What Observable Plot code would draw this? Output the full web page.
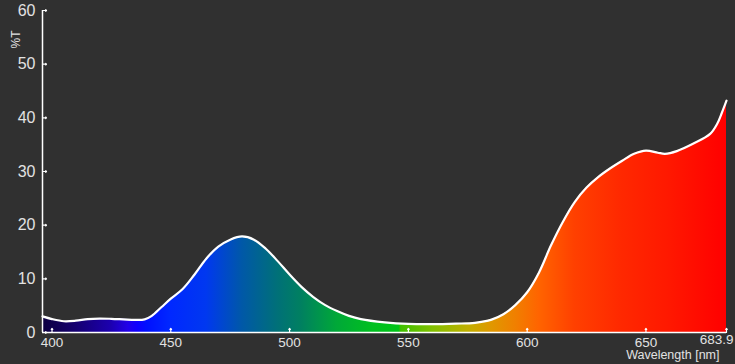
<!DOCTYPE html>
<html>
<head>
<meta charset="utf-8">
<script src="https://cdn.jsdelivr.net/npm/d3@7"></script>
<script src="https://cdn.jsdelivr.net/npm/@observablehq/plot@0.6"></script>
<style>
  html, body { margin: 0; padding: 0; background: #303030; }
  #chart { width: 735px; height: 364px; }
</style>
</head>
<body>
<div id="chart"></div>
<script>
// ---- data ----
const wavelengths = [396, 400, 405, 410, 415, 420, 425, 430, 435, 439, 442, 446, 450, 455, 460, 465, 470, 475, 480, 485, 490, 495, 500, 505, 510, 515, 520, 525, 530, 540, 550, 560, 570, 578, 585, 590, 595, 600, 605, 610, 615, 620, 625, 630, 635, 640, 645, 650, 655, 658, 663, 670, 677, 680, 682, 683.9];
const transmission = [3.0, 2.5, 2.1, 2.2, 2.5, 2.6, 2.55, 2.45, 2.35, 2.45, 3.1, 4.7, 6.3, 8.1, 10.8, 13.8, 16.0, 17.3, 17.9, 17.3, 15.6, 13.3, 10.8, 8.5, 6.6, 5.1, 4.0, 3.1, 2.5, 1.9, 1.6, 1.55, 1.65, 1.8, 2.4, 3.4, 5.1, 7.5, 11.2, 16.2, 20.6, 24.3, 27.0, 29.0, 30.6, 32.0, 33.3, 33.9, 33.5, 33.3, 33.8, 35.2, 37.0, 38.9, 41.0, 43.2];
const xTicks = [400, 450, 500, 550, 600, 650];
const xEndTick = [683.9];
const yTicks = [0, 10, 20, 30, 40, 50, 60];
const xDomain = [396, 683.9];
const yDomain = [0, 60];
const xLabel = "Wavelength [nm]";
const yLabel = "%T";

// spectral gradient stops (wavelength -> colour)
const stopWavelengths = [396, 410, 425, 432, 436, 440, 450, 465, 480, 495, 505, 520, 535, 546, 547, 560, 575, 585, 595, 605, 620, 640, 660, 683.9];
const stopColors = ["#0d0040", "#150070", "#1c00b0", "#2200e8", "#1000ff", "#0010ff", "#0028ff", "#0038f0", "#0058a8", "#007078", "#008060", "#00a838", "#00c020", "#00c418", "#40c000", "#80c000", "#c0b000", "#e09800", "#f08000", "#ff6400", "#ff4000", "#ff2800", "#ff1800", "#ff0000"];

const data = wavelengths.map((w, i) => ({w, t: transmission[i]}));
const fg = "#ffffff";
const txt = "#e2e2e2";

const plot = Plot.plot({
  width: 735,
  height: 364,
  marginLeft: 42,
  marginRight: 9,
  marginTop: 10,
  marginBottom: 32,
  style: {background: "#303030", color: txt, fontFamily: "'Liberation Sans', Arial, sans-serif"},
  x: {domain: xDomain},
  y: {domain: yDomain},
  marks: [
    Plot.areaY(data, {x: "w", y: "t", fill: "url(#spectrum)", curve: "catmull-rom"}),
    Plot.line(data, {x: "w", y: "t", stroke: fg, strokeWidth: 2.2, curve: "catmull-rom"}),
    Plot.ruleX([xDomain[0]], {stroke: fg, strokeWidth: 1.5}),
    Plot.ruleY([0], {stroke: fg, strokeWidth: 1.5}),
    Plot.vector(yTicks, {y: d => d, frameAnchor: "left", length: 4, rotate: 90, anchor: "start", stroke: fg, strokeWidth: 1.2}),
    Plot.vector(xTicks.concat(xEndTick), {x: d => d, frameAnchor: "bottom", length: 4, rotate: 0, anchor: "start", stroke: fg, strokeWidth: 1.2}),
    Plot.axisY({ticks: yTicks, tickSize: 0, tickPadding: 7, fontSize: 16, label: null, fill: txt}),
    Plot.axisX({ticks: xTicks, tickSize: 0, tickPadding: 5, fontSize: 13.5, label: null, fill: txt}),
    Plot.text(xEndTick, {x: d => d, frameAnchor: "bottom", text: d => String(d), textAnchor: "end", dx: 7, dy: 11.5, fontSize: 13.5, fill: txt}),
    Plot.text([xLabel], {frameAnchor: "bottom-right", text: d => d, textAnchor: "end", dx: -7, dy: 26, fontSize: 12.5, fill: txt}),
    Plot.text([yLabel], {frameAnchor: "top-left", text: d => d, rotate: -90, textAnchor: "middle", dx: -31, dy: 29, fontSize: 12, fill: txt})
  ]
});

// gradient definition (bounding box of the area spans the x domain)
const span = xDomain[1] - xDomain[0];
const defs = d3.select(plot).insert("defs", ":first-child");
const grad = defs.append("linearGradient").attr("id", "spectrum")
  .attr("x1", 0).attr("x2", 1).attr("y1", 0).attr("y2", 0);
stopWavelengths.forEach((w, i) => {
  grad.append("stop").attr("offset", (w - xDomain[0]) / span).attr("stop-color", stopColors[i]);
});

document.getElementById("chart").appendChild(plot);
</script>
</body>
</html>
